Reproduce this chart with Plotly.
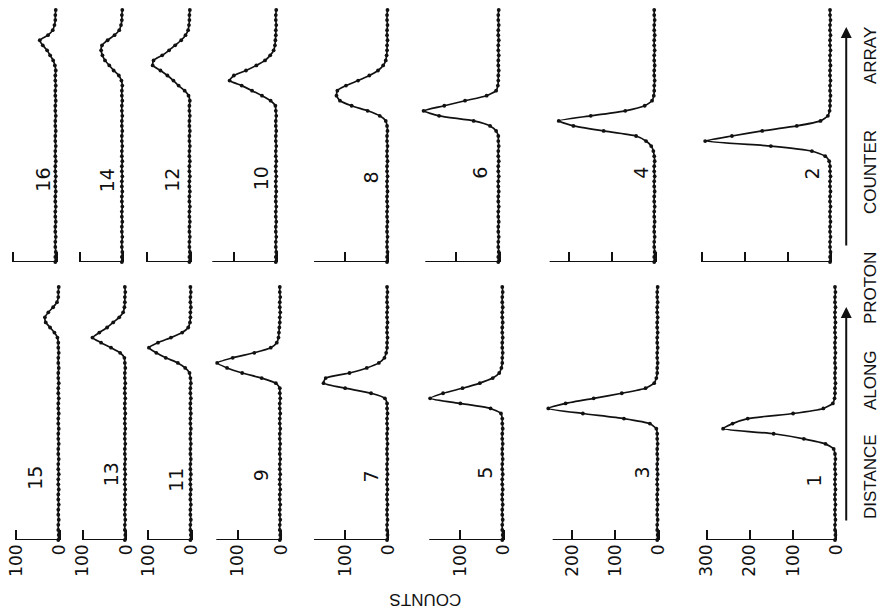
import plotly.graph_objects as go

# ---------------- data (counts per counter channel, channel 0 = bottom) -------------
CHANNELS = list(range(51))

p1 = [3,2,3,3,2,3,3,2,3,3, 2,3,3,2,3,3,2,3,6,25, 75,145,262,240,205,100,30,8,4,3,
      3,2,3,3,2,3,3,2,3,3, 2,3,3,2,3,3,2,3,3,2,3]
p2 = [3,3,2,3,3,2,3,3,2,3, 3,2,3,3,2,3,3,2,3,3, 5,14,45,140,292,230,160,80,25,8,
      4,3,3,2,3,3,2,3,3,2, 3,3,2,3,3,2,3,3,2,3,3]
p3 = [3,2,3,3,2,3,3,2,3,3, 2,3,3,2,3,3,2,3,3,2, 3,3,5,20,80,175,255,215,150,85,
      30,10,5,3,3,2,3,3,2,3, 3,2,3,3,2,3,3,2,3,3,2]
p4 = [3,3,2,3,3,2,3,3,2,3, 3,2,3,3,2,3,3,2,3,3, 2,3,5,10,22,45,120,190,224,150,
      70,25,8,4,3,3,2,3,3,2, 3,3,2,3,3,2,3,3,2,3,3]
p5 = [3,2,3,3,2,3,3,2,3,3, 2,3,3,2,3,3,2,3,3,2, 3,3,2,3,3,6,30,100,170,140,
      95,55,25,10,5,3,3,2,3,3, 2,3,3,2,3,3,2,3,3,2,3]
p6 = [3,3,2,3,3,2,3,3,2,3, 3,2,3,3,2,3,3,2,3,3, 2,3,3,2,3,3,8,22,60,140,
      176,128,80,30,8,4,3,3,2,3, 3,2,3,3,2,3,3,2,3,3,2]
p7 = [3,2,3,3,2,3,3,2,3,3, 2,3,3,2,3,3,2,3,3,2, 3,3,2,3,3,2,3,3,8,40,
      100,150,145,90,50,22,9,5,3,3, 2,3,3,2,3,3,2,3,3,2,3]
p8 = [3,3,2,3,3,2,3,3,2,3, 3,2,3,3,2,3,3,2,3,3, 2,3,3,2,3,3,2,3,6,20,
      48,85,112,120,118,98,70,44,24,12, 6,4,3,3,2,3,3,2,3,3,2]
p9 = [3,2,3,3,2,3,3,2,3,3, 2,3,3,2,3,3,2,3,3,2, 3,3,2,3,3,2,3,3,2,3,
      3,12,45,90,125,148,112,62,24,10, 6,5,4,3,3,2,3,3,2,3,3]
p10 = [3,3,2,3,3,2,3,3,2,3, 3,2,3,3,2,3,3,2,3,3, 2,3,3,2,3,3,2,3,3,2,
       3,4,15,35,58,82,110,100,72,48, 28,16,8,5,4,3,3,2,3,3,2]
p11 = [3,2,3,3,2,3,3,2,3,3, 2,3,3,2,3,3,2,3,3,2, 3,3,2,3,3,2,3,3,2,3,
       3,2,3,5,15,32,60,82,99,78, 48,22,8,4,3,3,2,3,3,2,3]
p12 = [3,3,2,3,3,2,3,3,2,3, 3,2,3,3,2,3,3,2,3,3, 2,3,3,2,3,3,2,3,3,2,
       3,3,2,5,14,28,40,54,70,88, 86,66,50,36,22,12,6,4,3,3,2]
p13 = [3,2,3,3,2,3,3,2,3,3, 2,3,3,2,3,3,2,3,3,2, 3,3,2,3,3,2,3,3,2,3,
       3,2,3,3,2,3,4,14,35,58, 78,62,44,30,16,7,4,3,3,2,3]
p14 = [3,3,2,3,3,2,3,3,2,3, 3,2,3,3,2,3,3,2,3,3, 2,3,3,2,3,3,2,3,3,2,
       3,3,2,3,3,2,4,10,22,32, 42,48,51,49,36,20,9,5,3,3,2]
p15 = [3,2,3,3,2,3,3,2,3,3, 2,3,3,2,3,3,2,3,3,2, 3,3,2,3,3,2,3,3,2,3,
       3,2,3,3,2,3,3,2,3,3, 5,12,22,32,34,26,15,6,3,3,2]
p16 = [3,3,2,3,3,2,3,3,2,3, 3,2,3,3,2,3,3,2,3,3, 2,3,3,2,3,3,2,3,3,2,
       3,3,2,3,3,2,3,3,2,4, 8,15,22,32,39,20,9,5,3,3,2]

PANEL_IDS = [1, 2, 3, 4, 5, 6, 7, 8, 9, 10, 11, 12, 13, 14, 15, 16]
PANEL_COUNTS = [p1, p2, p3, p4, p5, p6, p7, p8, p9, p10, p11, p12, p13, p14, p15, p16]
AXIS_MAX = [300, 300, 245, 245, 172, 172, 172, 172, 150, 150, 100, 100, 100, 100, 100, 100]
TICK_VALUES = [[0, 100, 200, 300], [0, 100, 200, 300], [0, 100, 200], [0, 100, 200],
               [0, 100], [0, 100], [0, 100], [0, 100], [0, 100], [0, 100],
               [0, 100], [0, 100], [0, 100], [0, 100], [0, 100], [0, 100]]
AXIS_TITLE = "COUNTS"
DIRECTION_WORDS = ["DISTANCE", "ALONG", "PROTON", "COUNTER", "ARRAY"]

# ---------------- layout geometry (pixels) ----------------
W, H = 885, 612
S = 0.435  # pixels per count
ROW_Y = {"bottom": (540, 287), "top": (262, 10)}  # (baseline y, top y)
BASE_X = {16: 57, 14: 124, 12: 192, 10: 279, 8: 391, 6: 503, 4: 660, 2: 837,
          15: 60, 13: 127, 11: 193, 9: 283, 7: 391, 5: 507, 3: 663, 1: 842}
LABEL_POS = {16: (43, 180), 14: (108, 180), 12: (173, 180), 10: (263, 178),
             8: (374, 177), 6: (483, 173), 4: (645, 173), 2: (818, 173),
             15: (35, 478), 13: (112, 474), 11: (177, 480), 9: (263, 475),
             7: (374, 476), 5: (488, 473), 3: (646, 473), 1: (820, 480)}
WORD_Y = [477, 380, 288, 172, 56]

FONT = "DejaVu Sans, Liberation Sans, sans-serif"
TFONT = "Liberation Sans, Arial, sans-serif"
INK = "#111111"

fig = go.Figure()
layout = dict(width=W, height=H, margin=dict(l=0, r=0, t=0, b=0),
              paper_bgcolor="white", plot_bgcolor="rgba(0,0,0,0)",
              showlegend=False, shapes=[], annotations=[])

for k, (pid, counts, rmax, tv) in enumerate(zip(PANEL_IDS, PANEL_COUNTS, AXIS_MAX, TICK_VALUES)):
    i = k + 1
    xname = "x" if i == 1 else f"x{i}"
    yname = "y" if i == 1 else f"y{i}"
    xkey = "xaxis" if i == 1 else f"xaxis{i}"
    ykey = "yaxis" if i == 1 else f"yaxis{i}"
    row = "bottom" if pid % 2 == 1 else "top"
    yb, yt = ROW_Y[row]
    pch = (yb - yt) / 50.0
    x0 = BASE_X[pid]
    rdisp = rmax + 25
    dom_x = [(x0 - rdisp * S) / W, (x0 + 8 * S) / W]
    dom_y = [1 - yb / H, 1 - (yt - pch) / H]

    fig.add_trace(go.Scatter(
        x=counts, y=CHANNELS, mode="lines+markers", xaxis=xname, yaxis=yname,
        line=dict(color=INK, width=1.7, shape="spline", smoothing=0.5),
        marker=dict(size=3.8, color=INK), cliponaxis=False, hoverinfo="skip"))

    layout[xkey] = dict(domain=dom_x, range=[rdisp, -8], anchor=yname,
                        showgrid=False, zeroline=False, showline=False,
                        ticks="inside", ticklen=10, tickwidth=2, tickcolor=INK,
                        tickvals=tv, ticktext=[str(v) for v in tv],
                        showticklabels=(row == "bottom"), tickangle=-90,
                        tickfont=dict(family=FONT, size=17, color=INK))
    layout[ykey] = dict(domain=dom_y, range=[0, 51], anchor=xname, visible=False)

    layout["shapes"].append(dict(type="line", xref=xname, yref=yname,
                                 x0=0, x1=rmax, y0=0, y1=0,
                                 line=dict(color=INK, width=2)))
    lx, ly = LABEL_POS[pid]
    layout["annotations"].append(dict(text=str(pid), x=lx / W, y=1 - ly / H,
                                      xref="paper", yref="paper", showarrow=False,
                                      textangle=-90, xanchor="center", yanchor="middle",
                                      font=dict(family=FONT, size=19, color=INK)))

# axis title
layout["annotations"].append(dict(text=AXIS_TITLE, x=428 / W, y=1 - 600 / H,
                                  xref="paper", yref="paper", showarrow=False,
                                  textangle=180, xanchor="center", yanchor="middle",
                                  font=dict(family=TFONT, size=17, color=INK)))
# direction text along right edge
for word, wy in zip(DIRECTION_WORDS, WORD_Y):
    layout["annotations"].append(dict(text=word, x=876 / W, y=1 - wy / H,
                                      xref="paper", yref="paper", showarrow=False,
                                      textangle=-90, xanchor="center", yanchor="middle",
                                      font=dict(family=TFONT, size=17, color=INK)))
# arrows
for tip_y, tail_y in [(27, 247), (307, 522)]:
    layout["annotations"].append(dict(text="", x=852 / W, y=1 - tip_y / H,
                                      xref="paper", yref="paper", showarrow=True,
                                      ax=0, ay=tail_y - tip_y, arrowhead=2,
                                      arrowsize=1.1, arrowwidth=2, arrowcolor=INK))

fig.update_layout(**layout)
fig.write_html("out.html")
